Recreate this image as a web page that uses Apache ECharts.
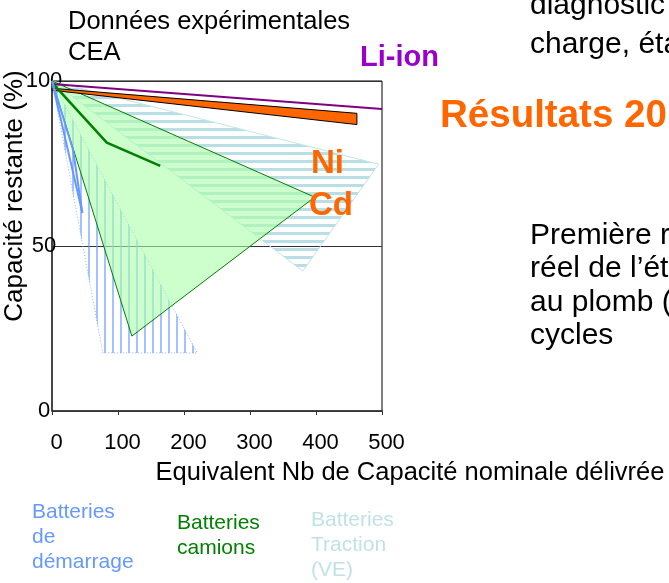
<!DOCTYPE html>
<html>
<head>
<meta charset="utf-8">
<script src="https://cdn.jsdelivr.net/npm/echarts@6/dist/echarts.min.js"></script>
<style>
html,body{margin:0;padding:0;background:#fff;}
#chart{width:669px;height:583px;}
</style>
</head>
<body>
<div id="chart"></div>
<script>
// zones (x = capacité nominale délivrée, y = capacité restante %)
var demarrageZone = [[0,100],[77,17.6],[220,17.6]];
var camionsZone = [[0,100],[398,64.8],[121,22.7]];
var tractionZone = [[0,100],[495,74.8],[380,42.4]];
var orangeBand = [[0,97.8],[462,90.2],[462,86.8],[0,97.2]];
// courbes
var liIonLine = [[0,99.1],[500,91.5]];
var camionsCurve = [[0,99.5],[83,81.3],[164,74.3]];
var demarrageCurveA = [[0,100],[46,60]];
var demarrageCurveB = [[0,100],[32,79],[46,60]];

var FONT = "'Liberation Sans', Arial, sans-serif";

function stripes(vertical, color, step, thick){
  var c = document.createElement('canvas');
  c.width = step; c.height = step;
  var g = c.getContext('2d');
  g.fillStyle = color;
  if(vertical) g.fillRect(0,0,thick,step);
  else g.fillRect(0,0,step,thick);
  return {image:c, repeat:'repeat'};
}

// zones drawn in order inside one custom series; the green fill is translucent so hatching shows through
var zones = [
  {pts:tractionZone, style:{fill:stripes(false,'rgba(168,214,222,0.8)',8,3), stroke:'#c2e4e8', lineWidth:1}},
  {pts:demarrageZone, style:{fill:stripes(true,'rgba(102,153,255,0.6)',8,2), stroke:'#8fb0ff', lineWidth:1, lineDash:[1,2]}},
  {pts:camionsZone, style:{fill:'rgba(170,255,170,0.6)', stroke:'#008000', lineWidth:1}},
  {pts:orangeBand, style:{fill:'#ff6600', stroke:'#000', lineWidth:1}}
];

function line(name, pts, color, w){
  return {type:'line', name:name, data:pts, symbol:'none', z:5, silent:true,
    lineStyle:{color:color, width:w}};
}

var chart = echarts.init(document.getElementById('chart'));

chart.setOption({
  animation:false,
  textStyle:{fontFamily:FONT},
  grid:{left:52, top:81, width:330, height:330, show:true, borderColor:'#000', borderWidth:1,
    containLabel:false, outerBoundsMode:'none'},
  xAxis:{
    type:'value', min:0, max:500, interval:100,
    name:'Equivalent Nb de Capacité nominale délivrée',
    nameLocation:'middle', nameGap:49, nameMoveOverlap:false,
    nameTextStyle:{fontSize:25.5, color:'#000', fontFamily:FONT, padding:[0,0,0,386]},
    axisLine:{lineStyle:{color:'#333', width:1.5}},
    axisTick:{show:true, length:4, lineStyle:{color:'#333'}},
    axisLabel:{fontSize:22, color:'#000', fontFamily:FONT, margin:21, padding:[0,0,0,9]},
    splitLine:{show:false}
  },
  yAxis:{
    type:'value', min:0, max:100, interval:50,
    name:'Capacité restante (%)',
    nameLocation:'middle', nameGap:24, nameRotate:90, nameMoveOverlap:false,
    nameTextStyle:{fontSize:26, color:'#000', fontFamily:FONT, padding:[0,0,0,100]},
    axisLine:{show:true, lineStyle:{color:'#333', width:1.5}},
    axisTick:{show:false},
    axisLabel:{fontSize:22, color:'#000', fontFamily:FONT, margin:8, align:'center', padding:[8,0,0,0]},
    splitLine:{show:true, lineStyle:{color:'#333', width:1}}
  },
  series:[
    {
      type:'custom', name:'Zones', silent:true, z:2, data:[0],
      renderItem:function(params, api){
        var children = zones.map(function(zn){
          return {type:'polygon', shape:{points:zn.pts.map(function(p){return api.coord(p);})}, style:zn.style};
        });
        return {type:'group', children:children};
      }
    },
    line('Li-ion', liIonLine, '#800080', 2),
    line('Camions', camionsCurve, '#008000', 2.5),
    line('Démarrage A', demarrageCurveA, '#6699ff', 2),
    line('Démarrage B', demarrageCurveB, '#6699ff', 2)
  ],
  graphic:[
    {type:'text', z:100, x:68, y:22, style:{text:'Données expérimentales', font:'25.5px '+FONT, fill:'#000', verticalAlign:'middle'}},
    {type:'text', z:100, x:68, y:53, style:{text:'CEA', font:'25.5px '+FONT, fill:'#000', verticalAlign:'middle'}},
    {type:'text', z:100, x:360, y:58, style:{text:'Li-ion', font:'bold 29px '+FONT, fill:'#9900cc', verticalAlign:'middle'}},
    {type:'text', z:100, x:311, y:164, style:{text:'Ni', font:'bold 33px '+FONT, fill:'#ff6600', verticalAlign:'middle'}},
    {type:'text', z:100, x:309, y:206, style:{text:'Cd', font:'bold 33px '+FONT, fill:'#ff6600', verticalAlign:'middle'}},
    {type:'text', z:100, x:530, y:6, style:{text:'diagnostic', font:'30px '+FONT, fill:'#000', verticalAlign:'middle'}},
    {type:'text', z:100, x:530, y:45, style:{text:'charge, éta', font:'30px '+FONT, fill:'#000', verticalAlign:'middle'}},
    {type:'text', z:100, x:440, y:116, style:{text:'Résultats 20', font:'bold 38.5px '+FONT, fill:'#ff6600', verticalAlign:'middle'}},
    {type:'text', z:100, x:530, y:236, style:{text:'Première r', font:'30px '+FONT, fill:'#000', verticalAlign:'middle'}},
    {type:'text', z:100, x:530, y:269, style:{text:'réel de l’ét', font:'30px '+FONT, fill:'#000', verticalAlign:'middle'}},
    {type:'text', z:100, x:530, y:303, style:{text:'au plomb (', font:'30px '+FONT, fill:'#000', verticalAlign:'middle'}},
    {type:'text', z:100, x:530, y:336, style:{text:'cycles', font:'30px '+FONT, fill:'#000', verticalAlign:'middle'}},
    {type:'text', z:100, x:32, y:500, style:{text:'Batteries\nde\ndémarrage', font:'21px '+FONT, lineHeight:25, fill:'#6699ff'}},
    {type:'text', z:100, x:177, y:511, style:{text:'Batteries\ncamions', font:'21px '+FONT, lineHeight:25, fill:'#008000'}},
    {type:'text', z:100, x:311, y:508, style:{text:'Batteries\nTraction\n(VE)', font:'21px '+FONT, lineHeight:25, fill:'#c0e2e6'}}
  ]
});
</script>
</body>
</html>
